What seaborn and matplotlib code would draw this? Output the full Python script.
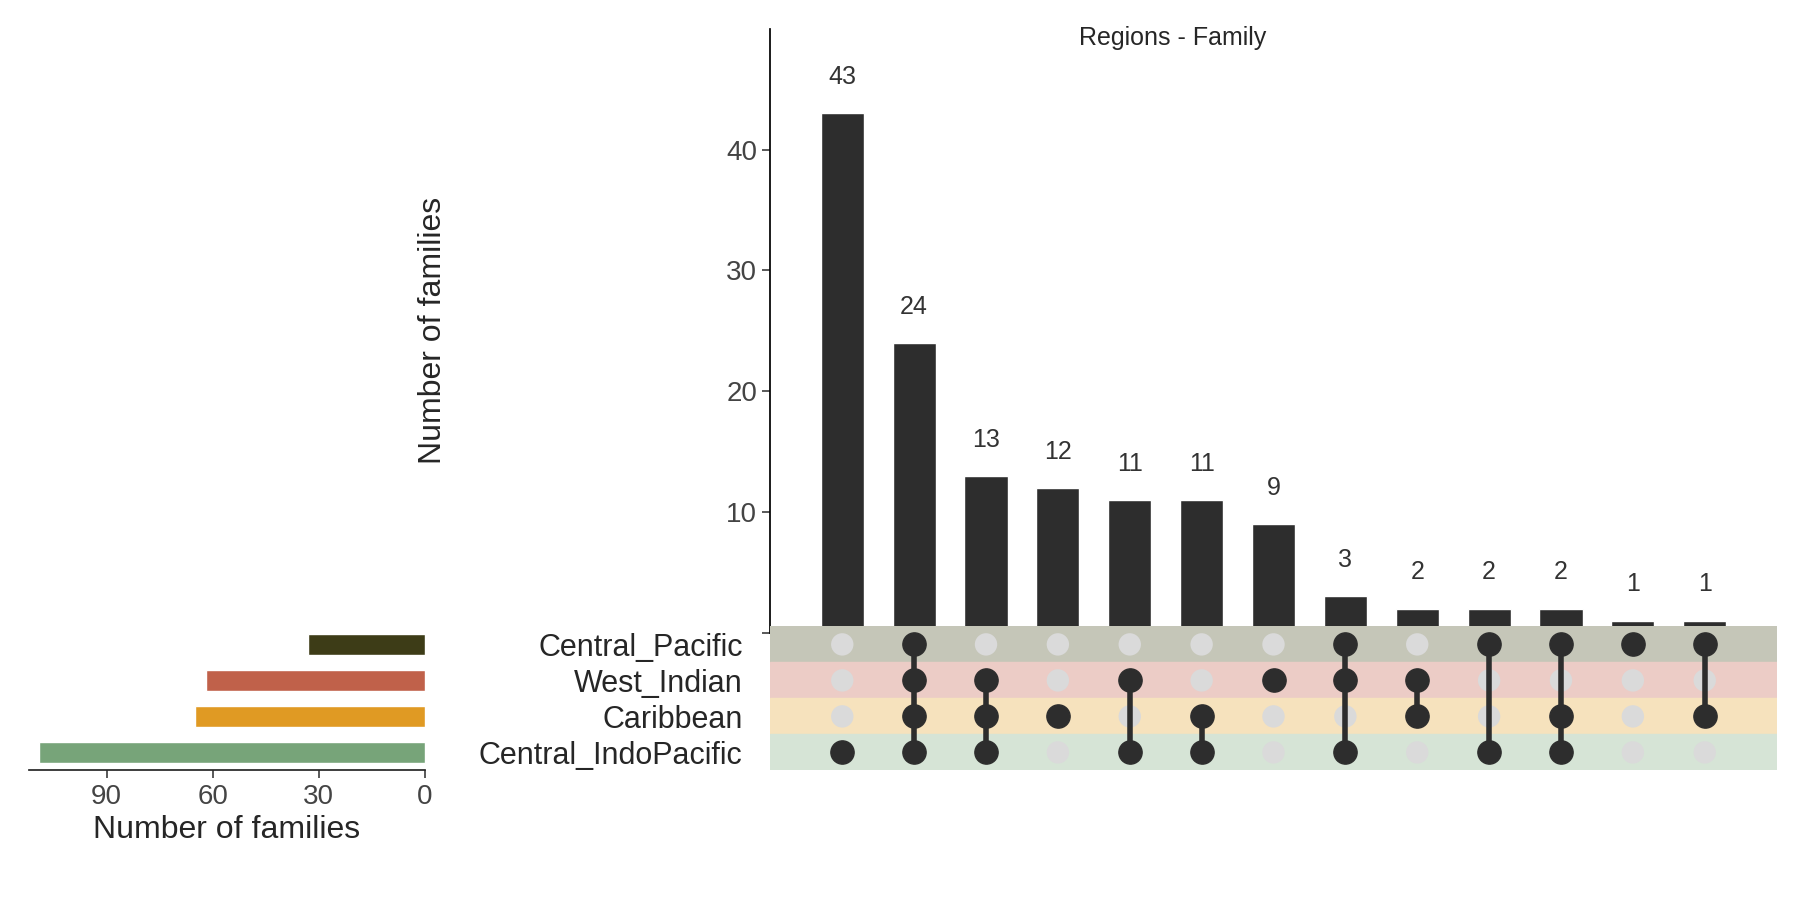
import matplotlib.pyplot as plt
import numpy as np
import pandas as pd
import seaborn as sns

sns.set_theme(style="ticks")
plt.rcParams['font.family'] = ['Liberation Sans', 'DejaVu Sans']

sets = ['Central_Pacific', 'West_Indian', 'Caribbean', 'Central_IndoPacific']
set_colors = ['#3d3c17', '#c0614a', '#e09a23', '#77a479']
row_tints = ['#c5c6b8', '#ecccc6', '#f6e2bd', '#d6e4d6']
set_sizes = [33, 62, 65, 109]

counts = [43, 24, 13, 12, 11, 11, 9, 3, 2, 2, 2, 1, 1]
members = [
    ['Central_IndoPacific'],
    ['Central_Pacific', 'West_Indian', 'Caribbean', 'Central_IndoPacific'],
    ['West_Indian', 'Caribbean', 'Central_IndoPacific'],
    ['Caribbean'],
    ['West_Indian', 'Central_IndoPacific'],
    ['Caribbean', 'Central_IndoPacific'],
    ['West_Indian'],
    ['Central_Pacific', 'West_Indian', 'Central_IndoPacific'],
    ['West_Indian', 'Caribbean'],
    ['Central_Pacific', 'Central_IndoPacific'],
    ['Central_Pacific', 'Caribbean', 'Central_IndoPacific'],
    ['Central_Pacific'],
    ['Central_Pacific', 'Caribbean'],
]

fig = plt.figure(figsize=(18, 9), dpi=100)
ax_bar = fig.add_axes([0.428, 0.297, 0.559, 0.671])
ax_mat = fig.add_axes([0.428, 0.144, 0.559, 0.160])
ax_set = fig.add_axes([0.016, 0.144, 0.220, 0.160])

# intersection bars
df = pd.DataFrame({'col': np.arange(len(counts)), 'n': counts})
ax_bar.bar(df['col'], df['n'], width=0.6, color='#2d2d2d')
for x, v in zip(df['col'], df['n']):
    ax_bar.text(x, v + 2, str(v), ha='center', va='bottom', fontsize=18, color='#333333')
ax_bar.set_xlim(-1, len(counts))
ax_bar.set_ylim(0, 50)
ax_bar.set_yticks([0, 10, 20, 30, 40])
ax_bar.set_yticklabels(['', '10', '20', '30', '40'])
ax_bar.tick_params(axis='y', labelsize=20, colors='#444444', length=6)
ax_bar.set_xticks([])
ax_bar.set_ylabel('Number of families', fontsize=23, labelpad=200)
ax_bar.set_title('Regions - Family', fontsize=18, x=0.4, y=0.96)
sns.despine(ax=ax_bar, bottom=True)
ax_bar.spines['left'].set_color('black')

# matrix
ypos = {s: len(sets) - 1 - i for i, s in enumerate(sets)}
for s, c in zip(sets, row_tints):
    ax_mat.axhspan(ypos[s] - 0.5, ypos[s] + 0.5, color=c, zorder=0)
grid = pd.DataFrame([(x, ypos[s]) for x in range(len(counts)) for s in sets], columns=['x', 'y'])
sns.scatterplot(data=grid, x='x', y='y', s=260, color='#dadada', edgecolor='none', ax=ax_mat, zorder=1)
for x, m in enumerate(members):
    ys = [ypos[s] for s in m]
    if len(ys) > 1:
        ax_mat.plot([x, x], [min(ys), max(ys)], color='#2d2d2d', lw=4, zorder=2)
    ax_mat.scatter([x] * len(ys), ys, s=280, color='#2d2d2d', zorder=3)
ax_mat.set_xlim(-1, len(counts))
ax_mat.set_ylim(-0.5, len(sets) - 0.5)
ax_mat.set_xticks([])
ax_mat.set_yticks([ypos[s] for s in sets])
ax_mat.set_yticklabels(sets, fontsize=22)
ax_mat.tick_params(axis='y', length=0, pad=20)
ax_mat.set_xlabel('')
ax_mat.set_ylabel('')
for sp in ax_mat.spines.values():
    sp.set_visible(False)

# set sizes
ax_set.barh([ypos[s] for s in sets], set_sizes, height=0.6, color=set_colors)
ax_set.set_ylim(-0.5, len(sets) - 0.5)
ax_set.set_xlim(112, 0)
ax_set.set_xticks([90, 60, 30, 0])
ax_set.tick_params(axis='x', labelsize=20, colors='#444444', length=6)
ax_set.set_yticks([])
ax_set.set_xlabel('Number of families', fontsize=23)
sns.despine(ax=ax_set, left=True)

fig.savefig('out.png', dpi=100)
